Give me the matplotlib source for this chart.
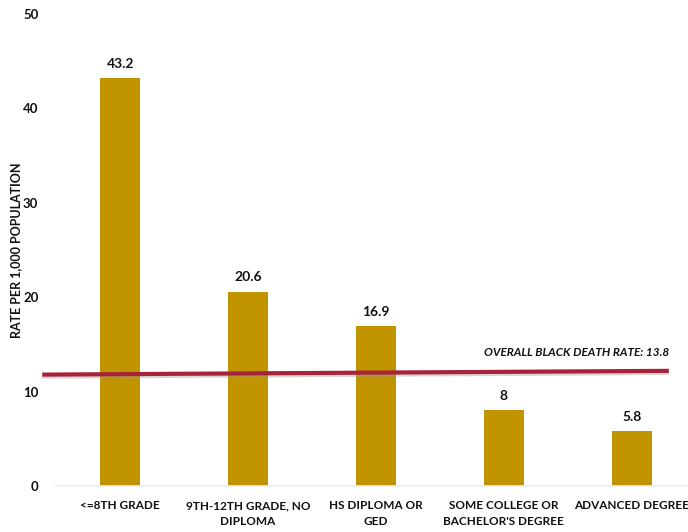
import matplotlib
matplotlib.use("Agg")
import matplotlib.pyplot as plt
import matplotlib.patheffects as pe

categories = ["<=8th grade", "9th-12th grade, no\ndiploma", "HS Diploma or\nGED",
              "Some college or\nBachelor's degree", "Advanced degree"]
values = [43.2, 20.6, 16.9, 8, 5.8]
value_labels = ["43.2", "20.6", "16.9", "8", "5.8"]
yticks = [0, 10, 20, 30, 40, 50]
overall_label = "Overall Black Death rate: 13.8"
overall_line_y = [11.8, 12.2]

plt.rcParams['font.family'] = ['Lato', 'DejaVu Sans']

fig = plt.figure(figsize=(6.88, 5.32), dpi=100)
ax = fig.add_axes([0.08, 0.0865, 0.92, 0.887])

bar_color = "#C09300"
x = list(range(len(categories)))
ax.bar(x, values, width=0.31, color=bar_color, zorder=2)
for xi, v, lab in zip(x, values, value_labels):
    ax.text(xi, v + 0.9, lab, ha="center", va="bottom", fontsize=10,
            fontweight="bold", color="#111111")

ax.set_xlim(-0.51, 4.44)
ax.set_ylim(0, 50)
ax.set_yticks(yticks)
ax.set_yticklabels([str(t) for t in yticks], fontsize=9.5, fontweight="bold", color="#111111")
ax.set_xticks(x)
ax.set_xticklabels([c.upper() for c in categories], fontsize=8.5, fontweight="bold",
                   color="#111111", linespacing=1.6)
ax.tick_params(axis="both", length=0)
ax.tick_params(axis="y", pad=12)
ax.tick_params(axis="x", pad=10)
for s in ["top", "right", "left"]:
    ax.spines[s].set_visible(False)
ax.spines["bottom"].set_color("#eeeeee")
ax.spines["bottom"].set_linewidth(1.2)

ax.set_ylabel("RATE PER 1,000 POPULATION", fontsize=9, fontweight="bold",
              color="#111111")
ax.yaxis.set_label_coords(-0.052, 0.5)

# overall reference line
ax.plot([-0.61, 4.29], overall_line_y, color="#A8233A", linewidth=3, clip_on=False,
        zorder=4, solid_capstyle="butt",
        path_effects=[pe.SimpleLineShadow(offset=(0, -1.5), shadow_color="#999999", alpha=0.4),
                      pe.Normal()])
ax.text(4.29, 14.1, overall_label.upper(), ha="right", va="center", fontsize=8.5,
        fontstyle="italic", fontweight="bold", color="#111111")

fig.savefig("out.png", dpi=100)
